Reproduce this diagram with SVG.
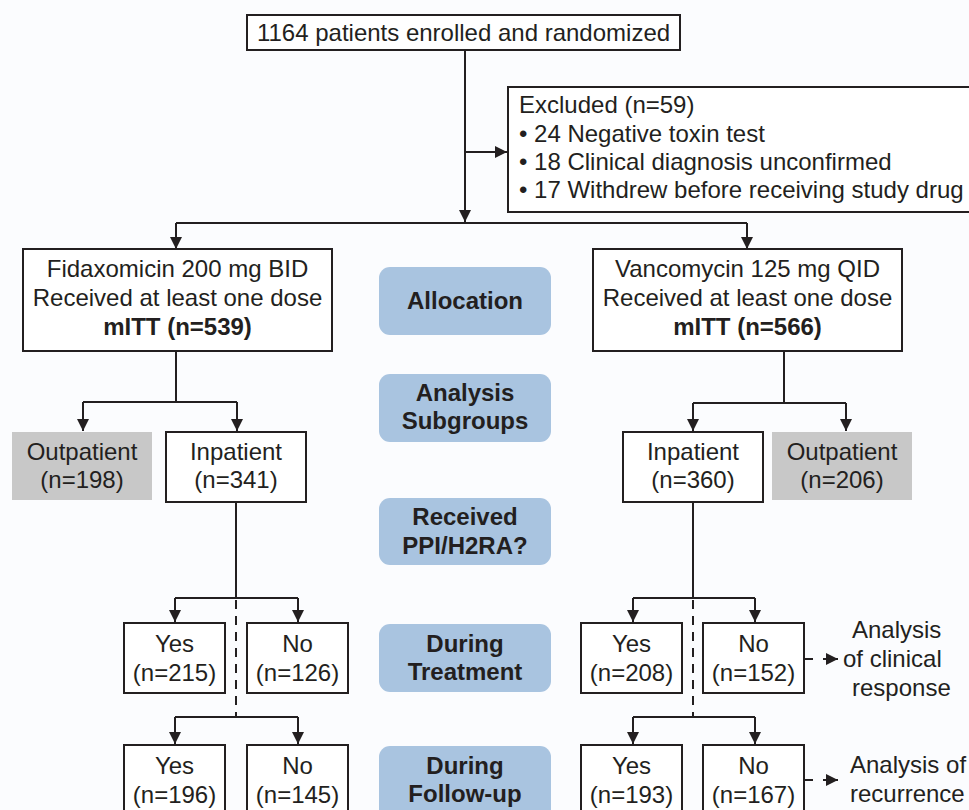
<svg xmlns="http://www.w3.org/2000/svg" width="969" height="810" viewBox="0 0 969 810">
<style>
  text { font-family: "Liberation Sans", Arial, sans-serif; font-size: 24px; fill: #231f20; }
  .c { text-anchor: middle; }
  .b { font-weight: bold; }
  .box { fill: #ffffff; stroke: #231f20; stroke-width: 2; }
  .gray { fill: #c8c8c8; stroke: none; }
  .pill { fill: #a9c4e0; stroke: none; }
  .ln { fill: none; stroke: #231f20; stroke-width: 2; }
  .ar { fill: none; stroke: #231f20; stroke-width: 2; marker-end: url(#ah); }
  .dash { fill: none; stroke: #231f20; stroke-width: 2; stroke-dasharray: 9 7; }
</style>
<defs>
  <marker id="ah" markerUnits="userSpaceOnUse" markerWidth="12" markerHeight="12" refX="12" refY="6" orient="auto">
    <path d="M0,0 L12,6 L0,12 z" fill="#231f20"/>
  </marker>
</defs>
<rect x="0" y="0" width="969" height="810" fill="#fbfcfe"/>

<g id="connectors">
  <path class="ar" d="M465,50 V222"/>
  <path class="ar" d="M465,152 H507"/>
  <path class="ln" d="M176,223 H747"/>
  <path class="ar" d="M176,223 V249"/>
  <path class="ar" d="M747,223 V249"/>

  <path class="ln" d="M176,351 V402 M83,402 H237"/>
  <path class="ar" d="M83,402 V431"/>
  <path class="ar" d="M237,402 V431"/>

  <path class="ln" d="M784,351 V403 M693,403 H846"/>
  <path class="ar" d="M693,403 V431"/>
  <path class="ar" d="M846,403 V431"/>

  <path class="ln" d="M236,502 V598 M175,598 H298"/>
  <path class="ar" d="M175,598 V622"/>
  <path class="ar" d="M298,598 V622"/>
  <path class="dash" d="M236,600 V717"/>
  <path class="ln" d="M175,717 H298"/>
  <path class="ar" d="M175,717 V744"/>
  <path class="ar" d="M298,717 V744"/>

  <path class="ln" d="M693,502 V598 M633,598 H755"/>
  <path class="ar" d="M633,598 V622"/>
  <path class="ar" d="M755,598 V622"/>
  <path class="dash" d="M693,600 V717"/>
  <path class="ln" d="M633,717 H755"/>
  <path class="ar" d="M633,717 V744"/>
  <path class="ar" d="M755,717 V744"/>

  <path class="ln" d="M804,659 H813"/>
  <path class="ar" d="M823,659 H838"/>
  <path class="ln" d="M804,780 H813"/>
  <path class="ar" d="M823,780 H838"/>
</g>

<g id="enrolled">
  <rect class="box" x="247" y="15" width="433" height="35"/>
  <text class="c" x="463.5" y="41">1164 patients enrolled and randomized</text>
</g>

<g id="excluded">
  <rect class="box" x="508" y="87" width="470" height="125"/>
  <text x="519" y="113">Excluded (n=59)</text>
  <text x="519" y="142">• 24 Negative toxin test</text>
  <text x="519" y="170">• 18 Clinical diagnosis unconfirmed</text>
  <text x="519" y="198">• 17 Withdrew before receiving study drug</text>
</g>

<g id="fidaxomicin">
  <rect class="box" x="23" y="249" width="309" height="102"/>
  <text class="c" x="177.5" y="277">Fidaxomicin 200 mg BID</text>
  <text class="c" x="177.5" y="306">Received at least one dose</text>
  <text class="c b" x="177.5" y="335">mITT (n=539)</text>
</g>

<g id="vancomycin">
  <rect class="box" x="593" y="249" width="309" height="102"/>
  <text class="c" x="747.5" y="277">Vancomycin 125 mg QID</text>
  <text class="c" x="747.5" y="306">Received at least one dose</text>
  <text class="c b" x="747.5" y="335">mITT (n=566)</text>
</g>

<g id="label-allocation">
  <rect class="pill" x="379" y="267" width="172" height="68" rx="11"/>
  <text class="c b" x="465" y="309">Allocation</text>
</g>
<g id="label-subgroups">
  <rect class="pill" x="379" y="374" width="172" height="68" rx="11"/>
  <text class="c b" x="465" y="401">Analysis</text>
  <text class="c b" x="465" y="429">Subgroups</text>
</g>
<g id="label-ppi">
  <rect class="pill" x="379" y="498" width="172" height="67" rx="11"/>
  <text class="c b" x="465" y="525">Received</text>
  <text class="c b" x="465" y="554">PPI/H2RA?</text>
</g>
<g id="label-treatment">
  <rect class="pill" x="379" y="624" width="172" height="68" rx="11"/>
  <text class="c b" x="465" y="652">During</text>
  <text class="c b" x="465" y="680">Treatment</text>
</g>
<g id="label-followup">
  <rect class="pill" x="379" y="746" width="172" height="80" rx="11"/>
  <text class="c b" x="465" y="774">During</text>
  <text class="c b" x="465" y="802">Follow-up</text>
</g>

<g id="fid-outpatient">
  <rect class="gray" x="12" y="432" width="140" height="68"/>
  <text class="c" x="82" y="460">Outpatient</text>
  <text class="c" x="82" y="488">(n=198)</text>
</g>
<g id="fid-inpatient">
  <rect class="box" x="166" y="432" width="140" height="70"/>
  <text class="c" x="236" y="460">Inpatient</text>
  <text class="c" x="236" y="488">(n=341)</text>
</g>
<g id="van-inpatient">
  <rect class="box" x="623" y="432" width="140" height="70"/>
  <text class="c" x="693" y="460">Inpatient</text>
  <text class="c" x="693" y="488">(n=360)</text>
</g>
<g id="van-outpatient">
  <rect class="gray" x="772" y="432" width="140" height="68"/>
  <text class="c" x="842" y="460">Outpatient</text>
  <text class="c" x="842" y="488">(n=206)</text>
</g>

<g id="fid-tx-yes">
  <rect class="box" x="124" y="623" width="101" height="70"/>
  <text class="c" x="174.5" y="652">Yes</text>
  <text class="c" x="174.5" y="681">(n=215)</text>
</g>
<g id="fid-tx-no">
  <rect class="box" x="247" y="623" width="101" height="70"/>
  <text class="c" x="297.5" y="652">No</text>
  <text class="c" x="297.5" y="681">(n=126)</text>
</g>
<g id="van-tx-yes">
  <rect class="box" x="581" y="623" width="101" height="70"/>
  <text class="c" x="631.5" y="652">Yes</text>
  <text class="c" x="631.5" y="681">(n=208)</text>
</g>
<g id="van-tx-no">
  <rect class="box" x="703" y="623" width="101" height="70"/>
  <text class="c" x="753.5" y="652">No</text>
  <text class="c" x="753.5" y="681">(n=152)</text>
</g>

<g id="fid-fu-yes">
  <rect class="box" x="124" y="745" width="101" height="75"/>
  <text class="c" x="174.5" y="774">Yes</text>
  <text class="c" x="174.5" y="803">(n=196)</text>
</g>
<g id="fid-fu-no">
  <rect class="box" x="247" y="745" width="101" height="75"/>
  <text class="c" x="297.5" y="774">No</text>
  <text class="c" x="297.5" y="803">(n=145)</text>
</g>
<g id="van-fu-yes">
  <rect class="box" x="581" y="745" width="101" height="75"/>
  <text class="c" x="631.5" y="774">Yes</text>
  <text class="c" x="631.5" y="803">(n=193)</text>
</g>
<g id="van-fu-no">
  <rect class="box" x="703" y="745" width="101" height="75"/>
  <text class="c" x="753.5" y="774">No</text>
  <text class="c" x="753.5" y="803">(n=167)</text>
</g>

<g id="clinical-response">
  <text x="852" y="638">Analysis</text>
  <text x="843" y="667">of clinical</text>
  <text x="852" y="696">response</text>
</g>
<g id="recurrence">
  <text x="850" y="773">Analysis of</text>
  <text x="850" y="802">recurrence</text>
</g>
</svg>
